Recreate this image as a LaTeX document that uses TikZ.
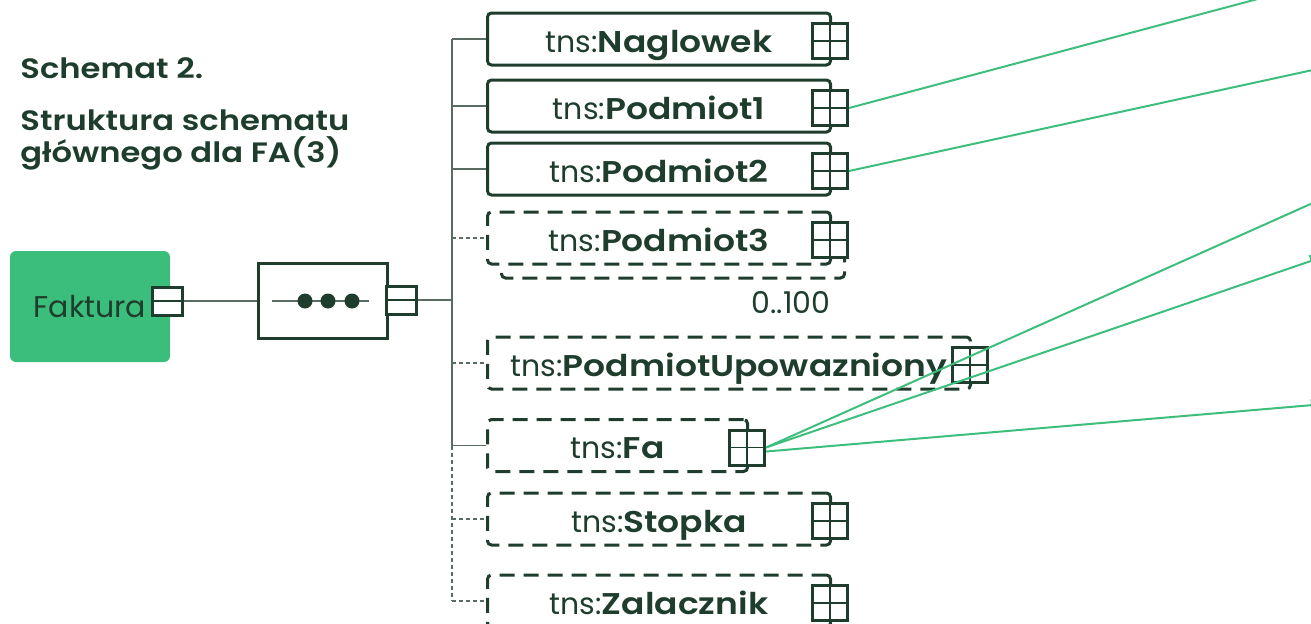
\documentclass[tikz,border=0pt]{standalone}
\usepackage{fontspec}
\setmainfont{Poppins}[BoldFont={Poppins SemiBold}, BoldFeatures={FakeStretch=1.15}]
\usetikzlibrary{arrows.meta}
\definecolor{mydarkgreen}{RGB}{30,61,44}
\definecolor{myfillgreen}{RGB}{59,190,124}
\definecolor{mylinegreen}{RGB}{62,190,125}
\definecolor{mygrey}{RGB}{88,108,98}
\newcommand{\tns}[1]{tns:\textbf{#1}}
\newcommand{\heightelem}{26pt}
\newcommand{\widthelem}{171.5pt}
\newcommand{\sizeicon}{17.5pt}
\newcommand{\labelfont}{\fontsize{15}{16}\selectfont}
\newcommand{\titlefont}{\fontsize{14}{16}\selectfont}
\tikzset{
    common/.style={anchor=west, draw=mydarkgreen, fill=white, rectangle, rounded corners=2pt,
        line width=1.5pt, minimum height=\heightelem, inner sep=0pt, text height=13pt, text depth=0pt,
        text=mydarkgreen, font=\labelfont},
    elem/.style={common, minimum width=\widthelem},
    optelem/.style={elem, dash pattern=on 7.5pt off 4.5pt},
    root/.style={fill=myfillgreen, rounded corners=3pt, minimum width=80pt, minimum height=55.5pt,
        inner sep=0pt, text=mydarkgreen, font=\labelfont},
    seqbox/.style={draw=mydarkgreen, fill=white, line width=1.5pt, minimum width=64.5pt, minimum height=37.5pt},
    heading/.style={anchor=base west, inner sep=0pt, text=mydarkgreen, font=\titlefont\bfseries},
    icon/.style={draw=mydarkgreen, fill=white, rectangle, line width=1.5pt, minimum size=\sizeicon, inner sep=0pt},
    expand/.style={icon,
        path picture={
            \draw[mydarkgreen, line width=0.6pt]
                (path picture bounding box.north)--(path picture bounding box.south)
                (path picture bounding box.west)--(path picture bounding box.east);
        }
    },
    collapse/.style={icon, minimum width=15pt, minimum height=14pt,
        path picture={
            \draw[mydarkgreen, line width=0.6pt]
                (path picture bounding box.west)--(path picture bounding box.east);
        }
    },
    branch/.style={mygrey, line width=0.75pt},
    optbranch/.style={branch, dash pattern=on 2pt off 1.5pt},
    ref/.style={mylinegreen, line width=1pt, -{Triangle[length=7pt, width=6pt]}}
}

\begin{document}
\begin{tikzpicture}[x=0.5pt, y=-0.5pt]
        \useasboundingbox (0,0) rectangle (1311,623);
        \clip (0,0) rectangle (1311,623);

        % title
        \node[heading] (title) at (20,78) {Schemat 2.};
        \node[heading] (subtitle1) at (20,130) {Struktura schematu};
        \node[heading] (subtitle2) at (20,162) {głównego dla FA(3)};

        % root and sequence
        \node[root] (faktura) at (90,306.5) {Faktura};
        \node[collapse] (faktura-icon) at (167,301) {};
        \node[seqbox] (seq) at (322.5,300.5) {};
        \draw[branch] ([xshift=7.5pt]seq.west |- 0,301) -- ([xshift=-10pt]seq.east |- 0,301);
        \foreach \x in {305,328,352}
            \fill[mydarkgreen] (\x,301) circle (3.75pt);
        \node[collapse] (seq-icon) at (401,300) {};
        \coordinate (trunk) at (452,301);

        % elements
        \node[elem] (naglowek) at (486,39) {\tns{Naglowek}};
        \node[elem] (podmiot1) at (486,106) {\tns{Podmiot1}};
        \node[elem] (podmiot2) at (486,169) {\tns{Podmiot2}};
        \node[optelem] (podmiot3-shadow) at (500,252) {};
        \node[optelem] (podmiot3) at (486,238) {\tns{Podmiot3}};
        \node[optelem, minimum width=241.5pt] (podmiotupow) at (486,363) {\tns{PodmiotUpowazniony}};
        \node[optelem, minimum width=130pt] (fa) at (486,445.5) {\tns{Fa}};
        \node[optelem] (stopka) at (486,519) {\tns{Stopka}};
        \node[optelem] (zalacznik) at (486,601) {\tns{Zalacznik}};
        \node[inner sep=0pt, text=mydarkgreen, font=\labelfont] (podmiot3-mult) at (791,303) {0..100};

        \foreach \n in {naglowek,podmiot1,podmiot2,podmiot3,podmiotupow,fa,stopka,zalacznik}
            \node[expand] (\n-icon) at ([shift={(-2,2)}]\n.east) {};

        % connectors
        \draw[branch] (faktura-icon.east) -- (faktura-icon.east -| seq.west);
        \draw[branch] (seq-icon.east) -- (seq-icon.east -| trunk);
        \draw[branch] (naglowek.west -| trunk) -- (fa.west -| trunk);
        \draw[optbranch] (fa.west -| trunk) -- (zalacznik.west -| trunk);
        \foreach \n in {naglowek,podmiot1,podmiot2,fa}
            \draw[branch] (\n.west -| trunk) -- (\n.west);
        \foreach \n in {podmiot3,podmiotupow,stopka,zalacznik}
            \draw[optbranch] (\n.west -| trunk) -- (\n.west);

        % references
        \coordinate (ref1) at (1400,-39);
        \coordinate (ref2) at (1400,51);
        \coordinate (ref3) at (1400,164);
        \coordinate (ref4) at (1324,256.5);
        \coordinate (ref5) at (1325,404);
        \draw[ref] (podmiot1-icon.east) -- (ref1);
        \draw[ref] (podmiot2-icon.east) -- (ref2);
        \draw[ref] (fa-icon.east) -- (ref3);
        \draw[ref] (fa-icon.east) -- (ref4);
        \draw[ref] ([yshift=-2pt]fa-icon.east) -- (ref5);
\end{tikzpicture}
\end{document}
